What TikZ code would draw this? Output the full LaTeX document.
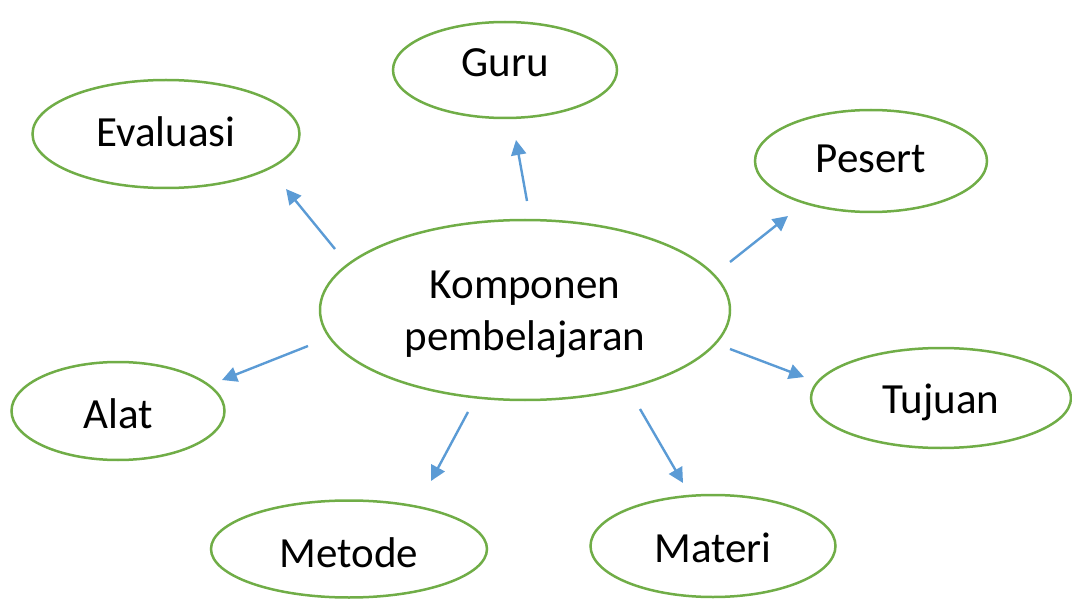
\documentclass[tikz,border=0pt]{standalone}
\usepackage{fontspec}
\setmainfont{Carlito}
\usetikzlibrary{arrows.meta,shapes.geometric}
\definecolor{egreen}{HTML}{70AD47}
\definecolor{ablue}{HTML}{5B9BD5}
\newcommand{\lowtext}[2]{\raisebox{-#1pt}[0pt][0pt]{#2}}
\begin{document}
\begin{tikzpicture}[x=1pt,y=-1pt,
  bubble/.style={draw=egreen,line width=2.5pt,ellipse,inner sep=0pt,
    font=\fontsize{43}{52}\selectfont,align=center},
  link/.style={draw=ablue,line width=2.4pt,-{Triangle[length=15pt,width=15pt]}}]
\useasboundingbox (0,0) rectangle (1072,599);
\node[bubble,minimum width=410pt,minimum height=180pt] (k) at (525,310) {\lowtext{14}{Komponen}\\\lowtext{14}{pembelajaran}};
\node[bubble,minimum width=224pt,minimum height=96pt] (guru) at (505,70) {\lowtext{7}{Guru}};
\node[bubble,minimum width=267pt,minimum height=108pt] (eval) at (166,134) {\lowtext{13}{Evaluasi}};
\node[bubble,minimum width=232pt,minimum height=102pt] (pes) at (871,161) {\lowtext{12}{Pesert}};
\node[bubble,minimum width=260pt,minimum height=100pt] (tuj) at (941,398) {\lowtext{15}{Tujuan}};
\node[bubble,minimum width=213pt,minimum height=98pt] (alat) at (118,411) {\lowtext{17}{Alat}};
\node[bubble,minimum width=276pt,minimum height=97pt] (met) at (349,549) {\lowtext{18}{Metode}};
\node[bubble,minimum width=245pt,minimum height=102pt] (mat) at (713,546) {\lowtext{16}{Materi}};
\coordinate (kg) at (527,201); \coordinate (ag) at (516,140);
\coordinate (ke) at (335,249); \coordinate (ae) at (286,189);
\coordinate (kp) at (730,262); \coordinate (ap) at (788,216);
\coordinate (kt) at (730,349); \coordinate (at) at (804,377);
\coordinate (ka) at (308,346); \coordinate (aa) at (222,380);
\coordinate (km) at (468,412); \coordinate (am) at (431,481);
\coordinate (kr) at (640,409); \coordinate (ar) at (683,483);
\draw[link] (kg) -- (ag);
\draw[link] (ke) -- (ae);
\draw[link] (kp) -- (ap);
\draw[link] (kt) -- (at);
\draw[link] (ka) -- (aa);
\draw[link] (km) -- (am);
\draw[link] (kr) -- (ar);
\end{tikzpicture}
\end{document}
